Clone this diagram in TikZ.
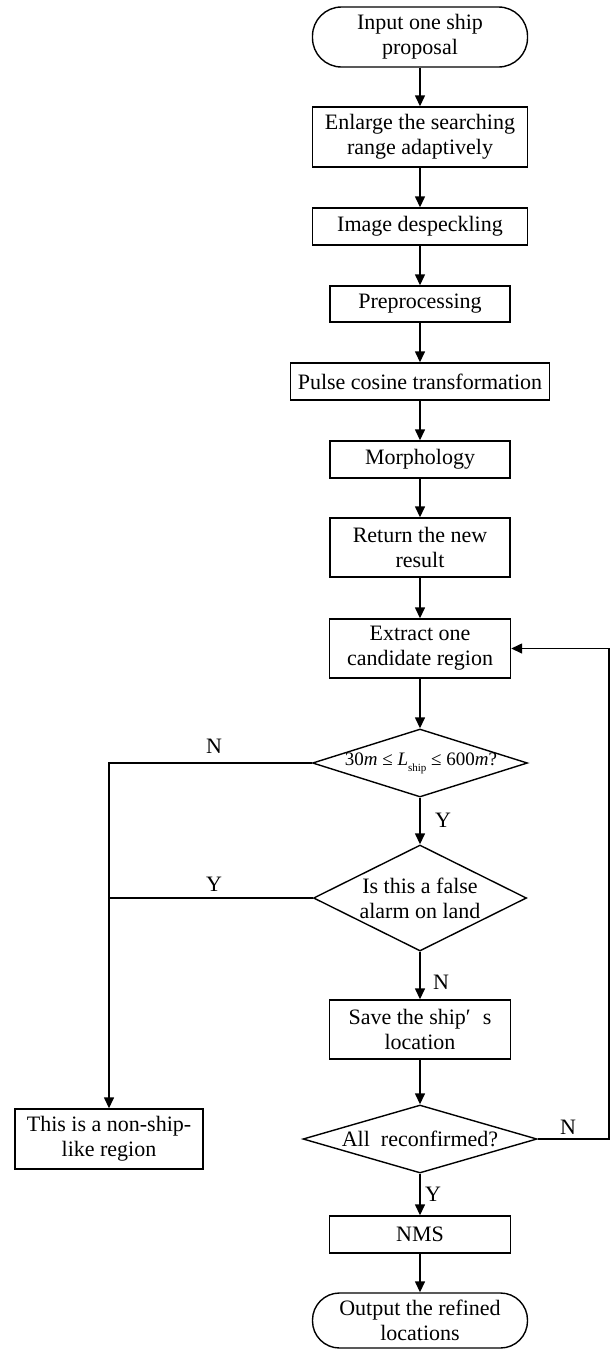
\documentclass[tikz,border=0pt]{standalone}
\usepackage{fontspec}
\setmainfont{Liberation Serif}
\usetikzlibrary{arrows.meta,shapes.geometric}
\begin{document}
\begin{tikzpicture}[x=1pt,y=-1pt,
  every node/.style={font=\fontsize{22}{25}\selectfont},
  box/.style={draw, line width=1.4pt, inner sep=0pt, align=center},
  term/.style={box},
  dec/.style={draw, diamond, line width=1.4pt, inner sep=0pt},
  arr/.style={line width=1.4pt, -{Triangle[length=11pt,width=10pt]}},
  ln/.style={line width=1.4pt},
  lab/.style={inner sep=0pt}]
\useasboundingbox (0,0) rectangle (613,1350);
% process column
\node[term, rounded corners=29pt, minimum width=215pt, minimum height=60pt] (start) at (420,37) {Input one ship\\proposal};
\node[box, minimum width=215pt, minimum height=60pt] (enl) at (420,137) {Enlarge the searching\\range adaptively};
\node[box, minimum width=215pt, minimum height=37pt] (desp) at (420,226.5) {Image despeckling};
\node[box, minimum width=180pt, minimum height=36pt] (pre) at (420,304) {Preprocessing};
\node[box, minimum width=259pt, minimum height=37pt] (pulse) at (420,381.5) {Pulse cosine transformation};
\node[box, minimum width=180pt, minimum height=37pt] (morph) at (420,459.5) {Morphology};
\node[box, minimum width=180pt, minimum height=59pt] (ret) at (420,547.5) {Return the new\\result};
\node[box, minimum width=181pt, minimum height=59pt] (ext) at (420,648.5) {Extract one\\candidate region};
\node[dec, minimum width=215pt, minimum height=68pt] (d1) at (420,763) {};
\node[lab, font=\fontsize{19}{22}\selectfont] (d1t) at (421,763) {30\textit{m} ≤ \textit{L}\raisebox{-0.3em}{\fontsize{11}{11}\selectfont ship} ≤ 600\textit{m}?};
\node[dec, minimum width=213pt, minimum height=106pt] (d2) at (420,898) {};
\node[lab, align=center] (d2t) at (420,898) {Is this a false\\alarm on land};
\node[box, minimum width=181pt, minimum height=59pt] (save) at (420,1029.5) {Save the ship′\hspace{0.55em}s\\location};
\node[dec, minimum width=234pt, minimum height=68pt] (d3) at (420,1139) {};
\node[lab] (d3t) at (420,1139) {All\ \ reconfirmed?};
\node[box, minimum width=181pt, minimum height=37pt] (nms) at (420,1234.5) {NMS};
\node[term, rounded corners=27pt, minimum width=215pt, minimum height=55pt] (end) at (420,1320.5) {Output the refined\\locations};
\node[box, minimum width=188pt, minimum height=60pt] (non) at (109,1139) {This is a non-ship-\\like region};
% helper coordinates
\coordinate (l1) at (109,763);
\coordinate (l2) at (109,898);
\coordinate (r1) at (609,1139);
\coordinate (r2) at (609,648.5);
% connectors
\draw[arr] (start) -- (enl);
\draw[arr] (enl) -- (desp);
\draw[arr] (desp) -- (pre);
\draw[arr] (pre) -- (pulse);
\draw[arr] (pulse) -- (morph);
\draw[arr] (morph) -- (ret);
\draw[arr] (ret) -- (ext);
\draw[arr] (ext) -- (d1.north);
\draw[arr] (d1.south) -- (d2.north);
\draw[arr] (d2.south) -- (save);
\draw[arr] (save) -- (d3.north);
\draw[arr] (d3.south) -- (nms);
\draw[arr] (nms) -- (end);
\draw[arr] (d1.west) -- (l1) -- (non.north);
\draw[ln] (d2.west) -- (l2);
\draw[arr] (d3.east) -- (r1) -- (r2) -- (ext.east);
% labels
\node[lab] (n1) at (214,746) {N};
\node[lab] (y1) at (443,820) {Y};
\node[lab] (y2) at (214,884) {Y};
\node[lab] (n2) at (441,982) {N};
\node[lab] (y3) at (433,1194) {Y};
\node[lab] (n3) at (568,1127) {N};
\end{tikzpicture}
\end{document}
